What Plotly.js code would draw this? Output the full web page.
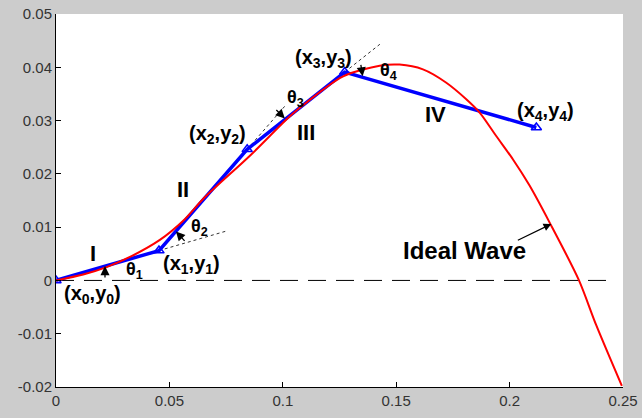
<!DOCTYPE html>
<html>
<head>
<meta charset="utf-8">
<script src="https://cdn.plot.ly/plotly-3.0.1.min.js"></script>
<style>
  html, body { margin: 0; padding: 0; background: #cccccc; }
  #plot { width: 642px; height: 418px; }
</style>
</head>
<body>
<div id="plot"></div>
<script>
// Ideal wave samples
const waveX = [0, 0.012, 0.0223, 0.0326, 0.0458, 0.0561, 0.0656, 0.0855, 0.1016, 0.1075,
               0.1266, 0.1427, 0.1515, 0.1618, 0.1721, 0.1809, 0.1868, 0.1941, 0.2015,
               0.2088, 0.2176, 0.2305, 0.2382, 0.2495];
const waveY = [0, 0.0011, 0.0025, 0.0044, 0.0076, 0.0112, 0.0156, 0.0234, 0.0302, 0.0324,
               0.0383, 0.0403, 0.0405, 0.0396, 0.0371, 0.0340, 0.0315, 0.0271, 0.0227,
               0.0178, 0.0109, 0.0001, -0.0084, -0.0198];

// Piecewise-linear approximation: vertices (x0,y0) ... (x4,y4)
const vertexX = [0, 0.0454, 0.0843, 0.1273, 0.2118];
const vertexY = [0, 0.0056, 0.0246, 0.0391, 0.0287];
const segmentNames = ['I', 'II', 'III', 'IV'];

// Horizontal reference line along y = 0
const baselineX = [0, 0.243];
const baselineY = [0, 0];

// Axis ticks
const xTicks = [0, 0.05, 0.1, 0.15, 0.2, 0.25];
const xTickText = ['0', '0.05', '0.1', '0.15', '0.2', '0.25'];
const yTicks = [-0.02, -0.01, 0, 0.01, 0.02, 0.03, 0.04, 0.05];
const yTickText = ['-0.02', '-0.01', '0', '0.01', '0.02', '0.03', '0.04', '0.05'];

const labelFont = { family: 'Liberation Sans, Arial, sans-serif', color: '#000000' };

// Dotted continuation of each segment past its end vertex
const extensionFactor = [0.66, 0.43, 0.36];
const extensionTraces = extensionFactor.map((f, k) => {
  const i = k + 1;
  return {
    x: [vertexX[i], vertexX[i] + f * (vertexX[i] - vertexX[i - 1])],
    y: [vertexY[i], vertexY[i] + f * (vertexY[i] - vertexY[i - 1])],
    mode: 'lines',
    line: { color: '#333333', width: 1, dash: '3px,3px' },
    hoverinfo: 'skip'
  };
});

const traces = [
  {
    x: baselineX, y: baselineY, mode: 'lines',
    line: { color: '#000000', width: 1, dash: '18px,10px' }, hoverinfo: 'skip'
  },
  ...extensionTraces,
  {
    x: vertexX, y: vertexY, mode: 'lines+markers',
    line: { color: '#0000ff', width: 3.5 },
    marker: { symbol: 'triangle-up-open', size: 9, color: '#0000ff', line: { width: 1.5, color: '#0000ff' } }
  },
  {
    x: waveX, y: waveY, mode: 'lines',
    line: { color: '#ff0000', width: 2, shape: 'spline', smoothing: 0.8 }
  }
];

// Segment numerals
const segmentPos = [[0.0162, 0.0050], [0.0559, 0.0171], [0.1104, 0.0277], [0.1674, 0.0312]];
// Vertex labels
const vertexLabelPos = [[0.0163, -0.0027], [0.0599, 0.0029], [0.0714, 0.0274], [0.1181, 0.0416], [0.2159, 0.0317]];
// Angle labels
const thetaPos = [[0.0348, 0.0018], [0.0634, 0.0099], [0.1057, 0.0341], [0.1467, 0.0392]];
// Angle arrows: tip position plus tail offset in pixels
const thetaArrows = [
  { x: 0.0216, y: 0.0027, ax: 0, ay: 13 },
  { x: 0.0529, y: 0.0092, ax: 10, ay: 11 },
  { x: 0.1009, y: 0.0304, ax: -10, ay: -10 },
  { x: 0.1352, y: 0.0383, ax: -2, ay: -13 }
];

const annotations = [];
segmentNames.forEach((name, i) => {
  annotations.push({
    x: segmentPos[i][0], y: segmentPos[i][1], text: '<b>' + name + '</b>',
    showarrow: false, font: Object.assign({ size: 22 }, labelFont)
  });
});
vertexX.forEach((_, i) => {
  annotations.push({
    x: vertexLabelPos[i][0], y: vertexLabelPos[i][1],
    text: '<b>(x<sub>' + i + '</sub>,y<sub>' + i + '</sub>)</b>',
    showarrow: false, font: Object.assign({ size: 20 }, labelFont)
  });
});
thetaPos.forEach((p, i) => {
  annotations.push({
    x: p[0], y: p[1], text: '<b>θ<sub>' + (i + 1) + '</sub></b>',
    showarrow: false, font: Object.assign({ size: 18 }, labelFont)
  });
});
thetaArrows.forEach(a => {
  annotations.push({
    x: a.x, y: a.y, ax: a.ax, ay: a.ay, text: '', showarrow: true,
    arrowhead: 2, arrowsize: 1.4, arrowwidth: 1.3, arrowcolor: '#000000',
    standoff: 0, startstandoff: 0
  });
});
annotations.push({
  x: 0.1802, y: 0.0056, text: '<b>Ideal Wave</b>', showarrow: false,
  font: Object.assign({ size: 24 }, labelFont)
});
annotations.push({
  x: 0.2184, y: 0.0106, ax: -35, ay: 17, text: '', showarrow: true,
  arrowhead: 2, arrowsize: 1.3, arrowwidth: 1.2, arrowcolor: '#000000',
  standoff: 0, startstandoff: 0
});

const tickFont = { family: 'Liberation Sans, Arial, sans-serif', size: 15, color: '#333333' };

const layout = {
  width: 642, height: 418,
  margin: { l: 56, r: 18.5, t: 14, b: 31 },
  paper_bgcolor: '#cccccc',
  plot_bgcolor: '#ffffff',
  showlegend: false,
  xaxis: {
    range: [0, 0.25], tickvals: xTicks, ticktext: xTickText,
    showline: true, linecolor: '#000000', linewidth: 1,
    ticks: 'inside', ticklen: 5, tickcolor: '#000000',
    showgrid: false, zeroline: false, tickfont: tickFont
  },
  yaxis: {
    range: [-0.02, 0.05], tickvals: yTicks, ticktext: yTickText,
    showline: true, linecolor: '#000000', linewidth: 1,
    ticks: 'inside', ticklen: 5, tickcolor: '#000000',
    showgrid: false, zeroline: false, tickfont: tickFont
  },
  annotations: annotations
};

Plotly.newPlot('plot', traces, layout, { displayModeBar: false, staticPlot: true });
</script>
</body>
</html>
